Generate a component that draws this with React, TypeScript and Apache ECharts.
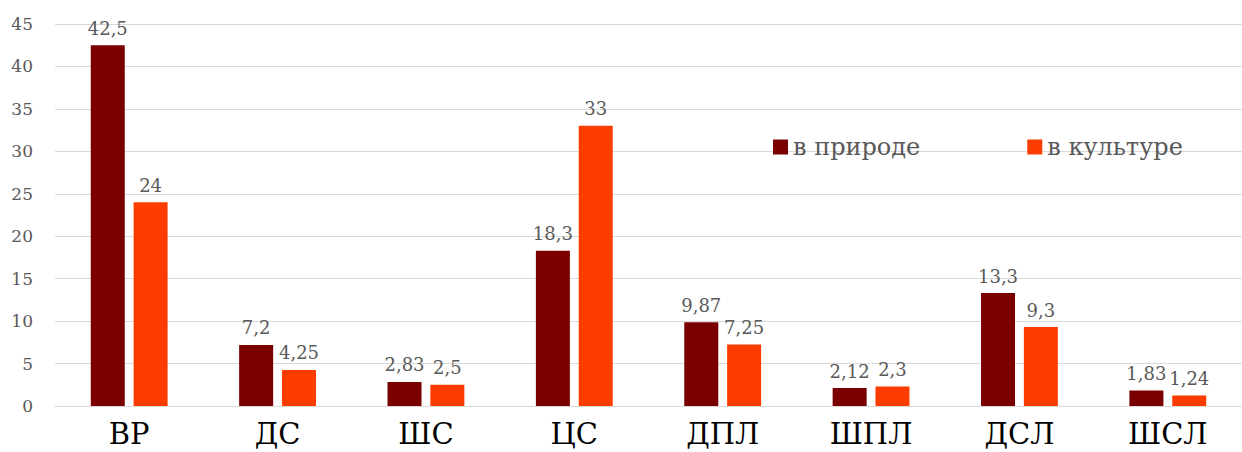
import React, { useEffect, useRef } from "react";
import * as echarts from "echarts";

const categories = ["ВР", "ДС", "ШС", "ЦС", "ДПЛ", "ШПЛ", "ДСЛ", "ШСЛ"];
const inNature = [42.5, 7.2, 2.83, 18.3, 9.87, 2.12, 13.3, 1.83];
const inCulture = [24, 4.25, 2.5, 33, 7.25, 2.3, 9.3, 1.24];
const seriesNames = ["в природе", "в культуре"];
const yTicks = { min: 0, max: 45, interval: 5 };

const FONT = "DejaVu Serif";
const DARK = "#7a0000";
const ORANGE = "#ff3c00";

// Decimal comma, as in the Russian locale
const fmt = (v: number) => String(v).replace(".", ",");

export default function App() {
  const ref = useRef<HTMLDivElement>(null);

  useEffect(() => {
    document.body.style.margin = "0";
    if (!ref.current) return;
    const chart = echarts.init(ref.current, undefined, { renderer: "svg" });

    const label = {
      show: true,
      position: "top" as const,
      distance: 8,
      color: "#595959",
      fontFamily: FONT,
      fontSize: 18,
      formatter: (p: any) => fmt(p.value),
    };

    chart.setOption({
      animation: false,
      backgroundColor: "#ffffff",
      textStyle: { fontFamily: FONT },
      grid: { left: 55, top: 24, bottom: 46, width: 1216, containLabel: false },
      legend: {
        left: 768,
        top: 130,
        icon: "rect",
        itemWidth: 15,
        itemHeight: 15,
        itemGap: 107,
        textStyle: { fontFamily: FONT, fontSize: 24, color: "#595959" },
        data: seriesNames,
      },
      xAxis: {
        type: "category",
        data: categories,
        axisLine: { lineStyle: { color: "#d9d9d9" } },
        axisTick: { show: false },
        axisLabel: { color: "#000000", fontFamily: FONT, fontSize: 29, margin: 13 },
      },
      yAxis: {
        type: "value",
        min: yTicks.min,
        max: yTicks.max,
        interval: yTicks.interval,
        axisLine: { show: false },
        axisTick: { show: false },
        splitLine: { lineStyle: { color: "#d9d9d9", width: 1 } },
        axisLabel: { color: "#595959", fontFamily: FONT, fontSize: 17, margin: 22 },
      },
      series: [
        {
          name: seriesNames[0],
          type: "bar",
          data: inNature,
          barWidth: 34,
          barGap: "26%",
          itemStyle: { color: DARK },
          label,
        },
        {
          name: seriesNames[1],
          type: "bar",
          data: inCulture,
          barWidth: 34,
          barGap: "26%",
          itemStyle: { color: ORANGE },
          label,
        },
      ],
    });

    return () => chart.dispose();
  }, []);

  return <div ref={ref} style={{ width: 1242, height: 452, overflow: "hidden" }} />;
}
